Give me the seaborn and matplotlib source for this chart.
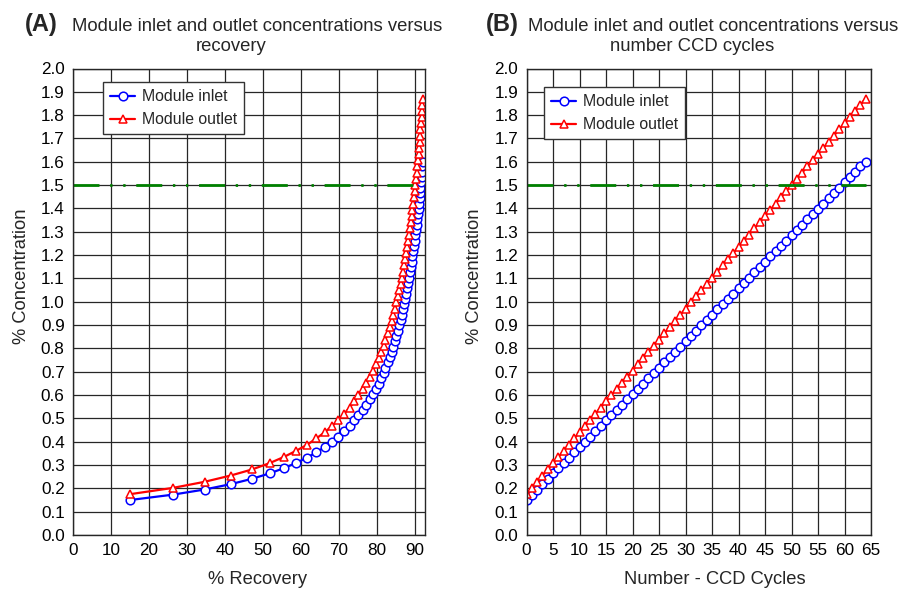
import matplotlib
matplotlib.use("Agg")
import matplotlib.pyplot as plt
import seaborn as sns
import pandas as pd

# ---------------- data ----------------
cycles = list(range(65))
inlet = [0.150, 0.173, 0.195, 0.218, 0.241, 0.264, 0.286, 0.309, 0.332, 0.354,
         0.377, 0.400, 0.422, 0.445, 0.468, 0.491, 0.513, 0.536, 0.559, 0.581,
         0.604, 0.627, 0.649, 0.672, 0.695, 0.718, 0.740, 0.763, 0.786, 0.808,
         0.831, 0.854, 0.876, 0.899, 0.922, 0.945, 0.967, 0.990, 1.013, 1.035,
         1.058, 1.081, 1.103, 1.126, 1.149, 1.172, 1.194, 1.217, 1.240, 1.262,
         1.285, 1.308, 1.330, 1.353, 1.376, 1.399, 1.421, 1.444, 1.467, 1.489,
         1.512, 1.535, 1.557, 1.580, 1.600]
outlet = [0.175, 0.202, 0.228, 0.255, 0.281, 0.308, 0.334, 0.361, 0.387, 0.414,
          0.440, 0.467, 0.493, 0.520, 0.546, 0.573, 0.599, 0.626, 0.652, 0.679,
          0.705, 0.732, 0.758, 0.785, 0.811, 0.838, 0.864, 0.891, 0.917, 0.944,
          0.970, 0.997, 1.023, 1.050, 1.076, 1.103, 1.129, 1.156, 1.182, 1.209,
          1.235, 1.262, 1.288, 1.315, 1.341, 1.368, 1.394, 1.421, 1.447, 1.474,
          1.500, 1.527, 1.553, 1.580, 1.606, 1.633, 1.659, 1.686, 1.712, 1.739,
          1.765, 1.792, 1.818, 1.845, 1.871]
recovery = [15.0, 26.3, 34.6, 41.5, 47.1, 51.7, 55.4, 58.7, 61.6, 64.0,
            66.2, 68.1, 69.8, 71.3, 72.8, 74.0, 75.1, 76.2, 77.2, 78.1,
            78.9, 79.7, 80.4, 81.0, 81.7, 82.2, 82.8, 83.3, 83.8, 84.2,
            84.7, 85.1, 85.4, 85.8, 86.2, 86.5, 86.8, 87.1, 87.4, 87.7,
            87.9, 88.2, 88.4, 88.7, 88.9, 89.1, 89.3, 89.5, 89.7, 89.9,
            90.1, 90.3, 90.4, 90.6, 90.7, 90.9, 91.0, 91.2, 91.3, 91.4,
            91.6, 91.7, 91.8, 91.9, 92.0]
limit_level = [1.5, 1.5]
limit_x_A = [0, 90]
limit_x_B = [0, 64]

y_ticks = [0.0, 0.1, 0.2, 0.3, 0.4, 0.5, 0.6, 0.7, 0.8, 0.9, 1.0,
           1.1, 1.2, 1.3, 1.4, 1.5, 1.6, 1.7, 1.8, 1.9, 2.0]
x_ticks_A = [0, 10, 20, 30, 40, 50, 60, 70, 80, 90]
x_ticks_B = [0, 5, 10, 15, 20, 25, 30, 35, 40, 45, 50, 55, 60, 65]

dfA = pd.DataFrame({"recovery": recovery, "inlet": inlet, "outlet": outlet})
dfB = pd.DataFrame({"cycles": cycles, "inlet": inlet, "outlet": outlet})

# ---------------- style ----------------
sns.set_style("white")
plt.rcParams["font.family"] = ["Liberation Sans", "DejaVu Sans"]
plt.rcParams["lines.scale_dashes"] = False

W, H = 905, 591
fig = plt.figure(figsize=(W / 100, H / 100), dpi=100)
fig.patch.set_facecolor("white")


def px_axes(l, t, r, b):
    return fig.add_axes([l / W, 1 - b / H, (r - l) / W, (b - t) / H])


axA = px_axes(73, 68.5, 425, 535)
axB = px_axes(526.5, 68.5, 871, 535)

BLUE = "#0000ff"
RED = "#ff0000"
GREEN = "#008000"
GRID = "#262626"


def draw(ax, df, xcol, limx, xlim, xticks):
    sns.lineplot(data=df, x=xcol, y="inlet", ax=ax, color=BLUE, linewidth=1.6,
                 marker="o", markersize=6.2, markerfacecolor="white",
                 markeredgecolor=BLUE, markeredgewidth=1.1,
                 estimator=None, sort=False, label="Module inlet")
    sns.lineplot(data=df, x=xcol, y="outlet", ax=ax, color=RED, linewidth=1.6,
                 marker="^", markersize=6.4, markerfacecolor="white",
                 markeredgecolor=RED, markeredgewidth=1.1,
                 estimator=None, sort=False, label="Module outlet")
    sns.lineplot(x=limx, y=limit_level, ax=ax, color=GREEN, linewidth=2.0,
                 linestyle=(0, (18.7, 7.7, 1.7, 7.7, 1.7, 7.7)),
                 estimator=None, sort=False, legend=False)
    ax.set_xlim(*xlim)
    ax.set_ylim(0, 2.0)
    ax.set_xticks(xticks)
    ax.set_yticks(y_ticks)
    ax.set_yticklabels([f"{v:.1f}" for v in y_ticks])
    ax.set_xticklabels([str(v) for v in xticks])
    ax.grid(True, color=GRID, linewidth=0.9)
    ax.set_axisbelow(True)
    ax.tick_params(direction="inout", length=7, width=1, color=GRID,
                   labelsize=12.3, pad=2.5, labelcolor="black")
    for s in ax.spines.values():
        s.set_color(GRID)
        s.set_linewidth(1.0)
    ax.set_xlabel("")
    ax.set_ylabel("")
    h, l = ax.get_legend_handles_labels()
    return h, l


hA, lA = draw(axA, dfA, "recovery", limit_x_A, (0, 92.6), x_ticks_A)
hB, lB = draw(axB, dfB, "cycles", limit_x_B, (0, 65), x_ticks_B)


def legend(ax, h, l, x, y):
    leg = ax.legend(h, l, loc="upper left", bbox_to_anchor=(x / W, 1 - y / H),
                    bbox_transform=fig.transFigure, frameon=True, fancybox=False,
                    edgecolor="#333333", framealpha=1, fontsize=11.4,
                    handlelength=1.6, handletextpad=0.4, borderpad=0.45,
                    labelspacing=0.5, borderaxespad=0)
    leg.get_frame().set_linewidth(1.0)


legend(axA, hA, lA, 103, 82)
legend(axB, hB, lB, 544, 87)


def ftext(x, y, s, **kw):
    fig.text(x / W, 1 - y / H, s, **kw)


# titles
ftext(25, 31, "(A)", fontsize=17, fontweight="bold", va="baseline", ha="left")
ftext(72, 31, "Module inlet and outlet concentrations versus", fontsize=13.3,
      va="baseline", ha="left")
ftext(231, 51, "recovery", fontsize=13.3, va="baseline", ha="center")

ftext(486, 31, "(B)", fontsize=17, fontweight="bold", va="baseline", ha="left")
ftext(528, 31, "Module inlet and outlet concentrations versus", fontsize=13.3,
      va="baseline", ha="left")
ftext(692, 51, "number CCD cycles", fontsize=13.3, va="baseline", ha="center")

# axis labels
ftext(258, 579, "% Recovery", fontsize=13.2, va="center", ha="center")
ftext(715, 579, "Number - CCD Cycles", fontsize=13.2, va="center", ha="center")
ftext(22, 276, "% Concentration", fontsize=13.2, va="center", ha="center",
      rotation=90)
ftext(474, 276, "% Concentration", fontsize=13.2, va="center", ha="center",
      rotation=90)

fig.savefig("out.png", dpi=100, facecolor="white")
